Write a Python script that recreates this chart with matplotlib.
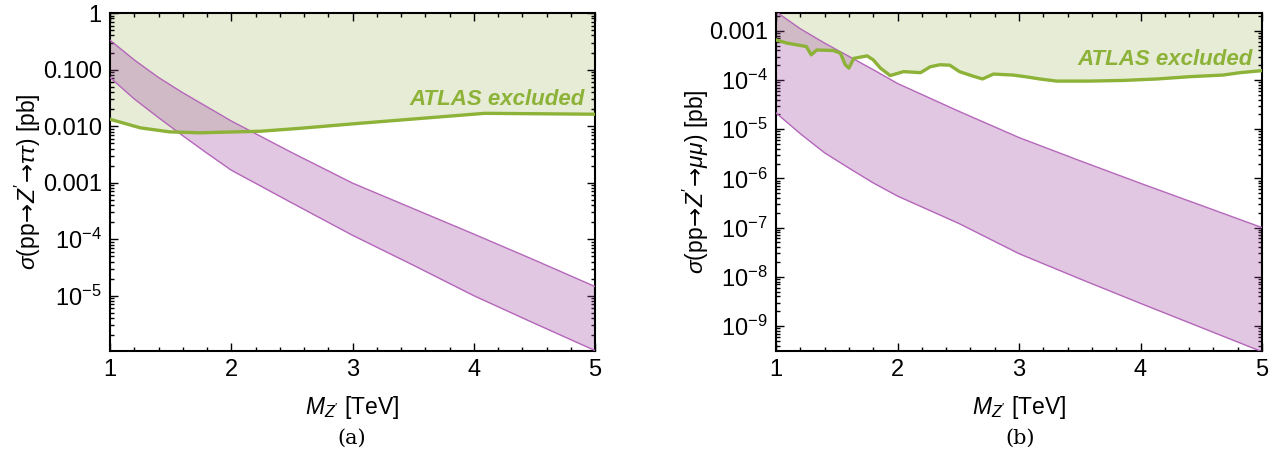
import matplotlib
matplotlib.use("Agg")
import matplotlib.pyplot as plt
from matplotlib.ticker import FixedLocator, FuncFormatter, MultipleLocator, NullFormatter

plt.rcParams['font.family'] = ['Liberation Sans', 'DejaVu Sans']
plt.rcParams['mathtext.fontset'] = 'custom'
plt.rcParams['mathtext.rm'] = 'Liberation Sans'
plt.rcParams['mathtext.it'] = 'Liberation Sans:italic'
plt.rcParams['mathtext.bf'] = 'Liberation Sans:bold'
plt.rcParams['mathtext.sf'] = 'DejaVu Sans'

# Z' mass grid (TeV) for the prediction bands
mz = [1.0, 1.2, 1.4, 1.6, 1.8, 2.0, 2.5, 3.0, 3.5, 4.0, 4.5, 5.0]

# sigma(pp -> Z' -> tau tau) band [pb]
tt_hi = [0.331, 0.148, 0.0724, 0.0389, 0.0219, 0.0123, 3.39e-3, 9.8e-4, 3.47e-4, 1.23e-4, 4.27e-5, 1.45e-5]
tt_lo = [0.0724, 0.0302, 0.0141, 6.76e-3, 3.31e-3, 1.66e-3, 4.37e-4, 1.17e-4, 3.47e-5, 1.0e-5, 3.24e-6, 1.07e-6]

# sigma(pp -> Z' -> mu mu) band [pb]
mm_hi = [2.45e-3, 1.10e-3, 5.62e-4, 3.02e-4, 1.62e-4, 8.5e-5, 2.34e-5, 6.76e-6, 2.29e-6, 7.94e-7, 2.82e-7, 1.0e-7]
mm_lo = [2.14e-5, 8.1e-6, 3.31e-6, 1.62e-6, 8.1e-7, 4.37e-7, 1.23e-7, 2.95e-8, 9.1e-9, 2.88e-9, 9.3e-10, 3.0e-10]

# ATLAS limits
atlas_tt_m = [1.0, 1.25, 1.49, 1.74, 2.24, 2.56, 3.06, 4.09, 5.0]
atlas_tt = [0.0132, 9.3e-3, 7.9e-3, 7.6e-3, 8.1e-3, 9.1e-3, 0.0112, 0.0168, 0.0162]

atlas_mm_m = [1.0, 1.09, 1.25, 1.29, 1.335, 1.47, 1.53, 1.57, 1.60, 1.64, 1.75, 1.80,
              1.86, 1.94, 2.05, 2.19, 2.27, 2.35, 2.43, 2.51, 2.62, 2.70, 2.79, 2.95,
              3.07, 3.17, 3.31, 3.58, 3.86, 4.14, 4.41, 4.68, 4.82, 5.0]
atlas_mm = [6.53e-4, 5.62e-4, 4.79e-4, 3.24e-4, 4.07e-4, 3.98e-4, 3.51e-4, 2.04e-4,
            1.74e-4, 2.75e-4, 3.09e-4, 2.57e-4, 1.74e-4, 1.23e-4, 1.48e-4, 1.41e-4,
            1.86e-4, 2.04e-4, 2.0e-4, 1.48e-4, 1.20e-4, 1.05e-4, 1.32e-4, 1.26e-4,
            1.15e-4, 1.05e-4, 9.5e-5, 9.5e-5, 9.8e-5, 1.05e-4, 1.17e-4, 1.26e-4,
            1.41e-4, 1.55e-4]

tt_ticks = [1, 0.1, 0.01, 0.001, 1e-4, 1e-5]
tt_labels = ['1', '0.100', '0.010', '0.001', r'$10^{-4}$', r'$10^{-5}$']
mm_ticks = [1e-3, 1e-4, 1e-5, 1e-6, 1e-7, 1e-8, 1e-9]
mm_labels = ['0.001'] + [r'$10^{-%d}$' % k for k in range(4, 10)]

GREEN = '#8db238'
GREEN_FILL = '#e7ecd6'
PURPLE = '#9e489e'
PURPLE_EDGE = '#b566bb'

ARROW = r'\!\mathsf{\rightarrow}\!'

fig = plt.figure(figsize=(12.83, 4.57), dpi=100)
ax1 = fig.add_axes([110 / 1283, 106 / 457, 485 / 1283, 338 / 457])
ax2 = fig.add_axes([776 / 1283, 106 / 457, 486 / 1283, 338 / 457])


def draw(ax, lim_m, lim, hi, lo, ylim, ticks, labels, ylabel, text_pos):
    ax.set_yscale('log')
    ax.fill_between(lim_m, lim, 100, color=GREEN_FILL, lw=0, zorder=1)
    ax.fill_between(mz, lo, hi, color=PURPLE, alpha=0.3, lw=0, zorder=2)
    ax.plot(mz, hi, color=PURPLE_EDGE, lw=1.0, zorder=3)
    ax.plot(mz, lo, color=PURPLE_EDGE, lw=1.0, zorder=3)
    ax.plot(lim_m, lim, color=GREEN, lw=2.4, zorder=4)
    ax.set_xlim(1, 5)
    ax.set_ylim(*ylim)
    ax.xaxis.set_major_locator(MultipleLocator(1))
    ax.xaxis.set_minor_locator(MultipleLocator(0.2))
    ax.yaxis.set_major_locator(FixedLocator(ticks))
    ax.yaxis.set_major_formatter(FuncFormatter(lambda v, p: labels[ticks.index(v)] if v in ticks else ''))
    minors = [m * 10.0 ** e for e in range(-11, 1) for m in range(2, 10)]
    ax.yaxis.set_minor_locator(FixedLocator(minors))
    ax.yaxis.set_minor_formatter(NullFormatter())
    ax.tick_params(which='both', direction='in', top=True, right=True, labelsize=17, width=1.0)
    ax.tick_params(which='major', length=6, pad=6)
    ax.tick_params(which='minor', length=3)
    for s in ax.spines.values():
        s.set_linewidth(1.5)
    ax.set_xlabel(r"$M_{Z'}$ [TeV]", fontsize=16.5, labelpad=9)
    ax.set_ylabel(ylabel, fontsize=16.5)
    ax.text(text_pos[0], text_pos[1], 'ATLAS excluded', transform=ax.transAxes,
            ha='right', va='center', color=GREEN, fontsize=16,
            fontweight='bold', fontstyle='italic', zorder=5)


draw(ax1, atlas_tt_m, atlas_tt, tt_hi, tt_lo, (1.05e-6, 1.0), tt_ticks, tt_labels,
     r"$\sigma$(pp$" + ARROW + r"Z^{\prime}" + ARROW + r"\tau\tau$) [pb]", (0.979, 0.745))
draw(ax2, atlas_mm_m, atlas_mm, mm_hi, mm_lo, (3.1e-10, 2.3e-3), mm_ticks, mm_labels,
     r"$\sigma$(pp$" + ARROW + r"Z^{\prime}" + ARROW + r"\mu\mu$) [pb]", (0.981, 0.862))
ax1.yaxis.set_label_coords(-0.138, 0.5)
ax2.yaxis.set_label_coords(-0.134, 0.5)

fig.text(352 / 1283, 1 - 438 / 457, '(a)', ha='center', va='center', fontsize=15,
         family='DejaVu Serif')
fig.text(1020 / 1283, 1 - 438 / 457, '(b)', ha='center', va='center', fontsize=15,
         family='DejaVu Serif')

fig.savefig('out.png', dpi=100)
